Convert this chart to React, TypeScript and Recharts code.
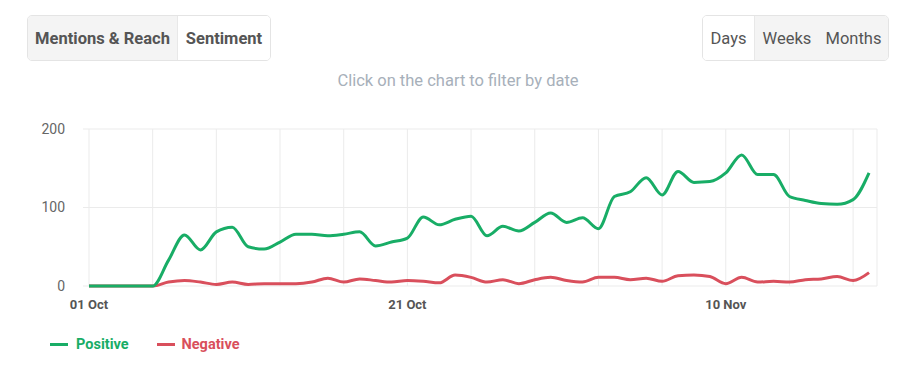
import { LineChart, Line, XAxis, YAxis, CartesianGrid } from 'recharts';

const dates = [
  '01 Oct', '02 Oct', '03 Oct', '04 Oct', '05 Oct', '06 Oct', '07 Oct', '08 Oct', '09 Oct', '10 Oct',
  '11 Oct', '12 Oct', '13 Oct', '14 Oct', '15 Oct', '16 Oct', '17 Oct', '18 Oct', '19 Oct', '20 Oct',
  '21 Oct', '22 Oct', '23 Oct', '24 Oct', '25 Oct', '26 Oct', '27 Oct', '28 Oct', '29 Oct', '30 Oct',
  '31 Oct', '01 Nov', '02 Nov', '03 Nov', '04 Nov', '05 Nov', '06 Nov', '07 Nov', '08 Nov', '09 Nov',
  '10 Nov', '11 Nov', '12 Nov', '13 Nov', '14 Nov', '15 Nov', '16 Nov', '17 Nov', '18 Nov', '19 Nov',
];

const positive = [
  0, 0, 0, 0, 0, 33, 65, 46, 69, 75,
  50, 47, 56, 66, 66, 64, 66, 69, 51, 56,
  61, 88, 78, 85, 89, 64, 76, 70, 81, 93,
  81, 87, 73, 114, 120, 138, 116, 146, 132, 133,
  144, 167, 142, 142, 114, 109, 105, 104, 110, 144,
];

const negative = [
  0, 0, 0, 0, 0, 5, 7, 5, 2, 5,
  2, 3, 3, 3, 5, 10, 5, 9, 7, 5,
  7, 6, 4, 14, 11, 5, 8, 3, 8, 11,
  7, 5, 11, 11, 8, 10, 6, 13, 14, 12,
  3, 11, 5, 6, 5, 8, 9, 12, 7, 17,
];

const gridDays = [0, 4, 8, 12, 16, 20, 24, 28, 32, 36, 40, 44, 48];
const tickLabels = ['01 Oct', '21 Oct', '10 Nov'];
const yTicks = [0, 100, 200];

const GREEN = '#18ad66';
const RED = '#d94f5c';
const FONT = 'Roboto, "Noto Sans", sans-serif';

const data = dates.map((date, i) => ({
  day: i,
  date,
  positive: positive[i],
  negative: negative[i],
}));

const btnBase = {
  height: '100%',
  display: 'flex',
  alignItems: 'center',
  justifyContent: 'center',
  fontSize: 16.5,
  color: '#555',
  boxSizing: 'border-box' as const,
};

const App = () => {
  return (
    <div
      style={{
        position: 'absolute',
        left: 0,
        top: 0,
        width: 913,
        height: 375,
        background: '#fff',
        fontFamily: FONT,
      }}
    >
      {/* left toggle group */}
      <div
        style={{
          position: 'absolute',
          left: 27,
          top: 15,
          width: 244,
          height: 46,
          border: '1px solid #e4e4e4',
          borderRadius: 5,
          display: 'flex',
          overflow: 'hidden',
          boxSizing: 'border-box',
        }}
      >
        <div style={{ ...btnBase, width: 149, background: '#f4f4f4', fontWeight: 700 }}>Mentions &amp; Reach</div>
        <div style={{ ...btnBase, flex: 1, background: '#fff', fontWeight: 700, borderLeft: '1px solid #e8e8e8' }}>
          Sentiment
        </div>
      </div>

      {/* right toggle group */}
      <div
        style={{
          position: 'absolute',
          left: 702,
          top: 15,
          width: 187,
          height: 46,
          border: '1px solid #e4e4e4',
          borderRadius: 5,
          display: 'flex',
          overflow: 'hidden',
          boxSizing: 'border-box',
        }}
      >
        <div style={{ ...btnBase, width: 52, background: '#fff', borderRight: '1px solid #e8e8e8' }}>Days</div>
        <div style={{ ...btnBase, width: 64, background: '#f4f4f4' }}>Weeks</div>
        <div style={{ ...btnBase, flex: 1, background: '#f4f4f4' }}>Months</div>
      </div>

      <div
        style={{
          position: 'absolute',
          left: 0,
          top: 71,
          width: 916,
          textAlign: 'center',
          fontSize: 16.5,
          color: '#a7b0ba',
        }}
      >
        Click on the chart to filter by date
      </div>

      <div style={{ position: 'absolute', left: 0, top: 110 }}>
        <LineChart
          width={913}
          height={210}
          data={data}
          margin={{ top: 19, right: 36, bottom: 4, left: 0 }}
        >
          <CartesianGrid stroke="#ebebeb" strokeWidth={1} />
          <XAxis
            dataKey="day"
            type="number"
            domain={[0, 49.5]}
            ticks={gridDays}
            interval={0}
            axisLine={false}
            tickLine={false}
            tickSize={0}
            tickMargin={14}
            height={30}
            tick={{ fill: '#555', fontSize: 13, fontWeight: 700, fontFamily: FONT }}
            tickFormatter={(v: number) => (tickLabels.includes(dates[v]) ? dates[v] : '')}
          />
          <YAxis
            domain={[0, 200]}
            ticks={yTicks}
            width={89}
            axisLine={false}
            tickLine={{ stroke: '#ebebeb' }}
            tickSize={6}
            tickMargin={18}
            tick={{ fill: '#666', fontSize: 14, fontFamily: FONT }}
          />
          <Line
            type="monotone"
            dataKey="negative"
            stroke={RED}
            strokeWidth={3}
            dot={false}
            isAnimationActive={false}
          />
          <Line
            type="monotone"
            dataKey="positive"
            stroke={GREEN}
            strokeWidth={3}
            dot={false}
            isAnimationActive={false}
          />
        </LineChart>
      </div>

      {/* legend */}
      <div
        style={{
          position: 'absolute',
          left: 50,
          top: 336,
          display: 'flex',
          alignItems: 'center',
          fontSize: 14.5,
          fontWeight: 700,
        }}
      >
        <span style={{ display: 'inline-block', width: 18, height: 3, background: GREEN, marginRight: 8 }} />
        <span style={{ color: GREEN, marginRight: 28 }}>Positive</span>
        <span style={{ display: 'inline-block', width: 18, height: 3, background: RED, marginRight: 7 }} />
        <span style={{ color: RED }}>Negative</span>
      </div>
    </div>
  );
};

export default App;
